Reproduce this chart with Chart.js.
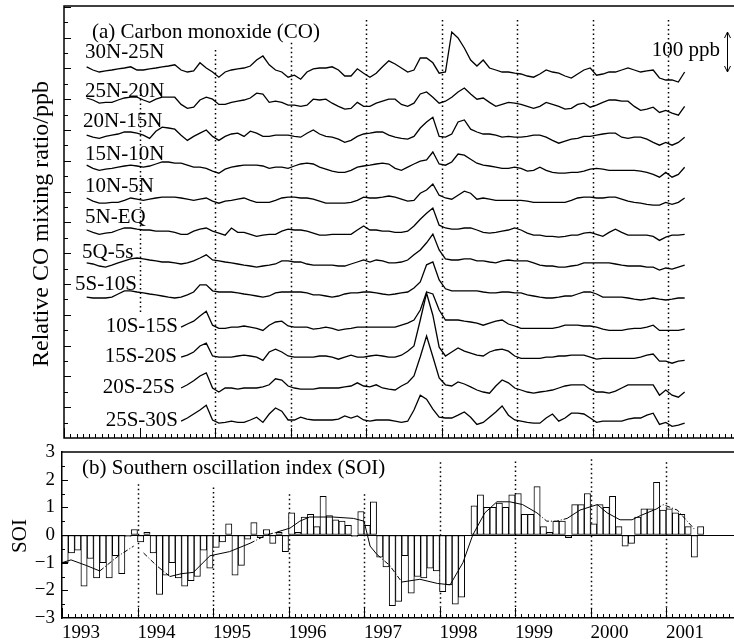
<!DOCTYPE html>
<html><head><meta http-equiv="Content-Type" content="text/html; charset=UTF-8">
<title>CO and SOI 1993-2001</title>
<script src="https://cdn.jsdelivr.net/npm/chart.js@4/dist/chart.umd.min.js"></script>
<style>
  body { margin: 0; background: #fff; }
  #wrap { position: relative; width: 734px; height: 644px; }
  canvas { position: absolute; left: 0; }
  #co-chart { top: 0; }
  #soi-chart { top: 444px; }
</style>
</head>
<body>
<div id="wrap">
  <canvas id="co-chart" width="734" height="444"></canvas>
  <canvas id="soi-chart" width="734" height="200"></canvas>
</div>
<script>
// ---- panel (a): relative CO (ppb), monthly means from spring 1993 ----
var coStart = 1993.3;
var coBands = ['30N-25N', '25N-20N', '20N-15N', '15N-10N', '10N-5N', '5N-EQ',
               '5Q-5s', '5S-10S', '10S-15S', '15S-20S', '20S-25S', '25S-30S'];
// vertical display offset of each band (ppb)
var coOffset = [915, 842, 757, 677, 597, 517, 435, 355, 277, 202, 125, 42];

var co30N25N = [13,5,0,3,5,8,10,13,5,5, 8,10,13,15,18,5,0,3,23,10, 0,-13,0,5,8,10,15,30,40,18,
  5,0,-13,-8,-18,0,8,10,10,13, 5,-10,-10,8,-3,-13,-3,13,28,20, 10,0,5,35,35,23,-3,0,100,85,
  60,30,15,30,10,5,0,0,-3,-5, -10,-13,-5,5,0,-3,-10,-15,-5,5, 10,-8,-5,0,0,5,10,5,0,3, 5,-15,-20,-20,-25,0];
var co25N20N = [8,3,-5,-3,-3,3,8,10,10,3, -3,5,10,10,10,-8,-18,-15,3,10, 5,-8,-8,-3,0,3,8,20,18,-3,
  0,-3,-10,-10,-13,-10,5,3,5,-5, -13,-20,-18,-3,-13,-13,-5,0,5,5, -8,-13,-5,18,23,10,-5,0,10,23,
  33,18,5,8,-3,-13,-8,-3,-5,-8, -13,-18,-13,-3,-8,-13,-20,-18,-8,-5, -15,-10,-3,3,3,0,0,-13,-23,-20, -15,-28,-23,-30,-35,-13];
var co20N15N = [0,-5,-8,-3,0,3,8,8,5,0, -8,10,20,18,15,0,-13,-3,5,13, -3,-13,-3,3,5,-3,10,5,-3,-3,
  0,0,0,-3,-5,5,13,3,-3,-5, -10,-18,-13,-3,3,5,8,8,0,-5, -8,-10,-3,18,33,45,-3,-5,3,33,
  38,15,8,3,3,0,-5,-3,-5,-5, -3,0,0,-5,-13,-20,-15,-10,-8,-3, -3,0,3,5,5,-5,-8,-5,-5,-10, -18,-25,-18,-25,-18,-5];
var co15N10N = [5,-3,-8,-5,-3,0,3,5,3,0, 3,8,13,13,10,10,5,0,0,-3, -10,-15,-5,0,3,5,5,5,3,-3,
  0,0,-3,3,8,10,8,0,-5,-10, -13,-13,-8,0,3,5,8,10,8,-3, -8,0,8,15,18,38,8,5,13,33,
  30,20,10,5,3,0,-3,-3,0,-3, -10,-8,0,-8,-13,-15,-15,-13,-13,-10, -5,-3,-5,-8,-8,-8,-8,-8,-10,-13, -18,-25,-13,-25,-18,0];
var co10N5N = [3,-5,-10,-10,-8,-8,-3,3,0,-3, 0,3,5,5,5,3,0,-3,0,3, -5,-10,-5,-3,0,3,-3,-8,-8,-8,
  -3,3,5,5,3,3,0,-5,-10,-10, -10,-10,-8,-3,5,3,3,5,8,5, 0,-5,-3,15,23,38,10,3,0,10,
  20,15,0,3,0,-3,-3,-3,-3,-3, -5,-8,-8,-8,-8,-8,-8,-3,3,5, 5,3,3,5,5,0,-5,-8,-10,-13, -15,-15,-8,-13,-8,3];
var co5NEQ = [3,-3,-8,-5,-3,3,8,8,5,3, 3,0,0,0,-3,-8,-8,0,5,8, 0,-5,-10,8,-3,-3,-8,-13,-10,-8,
  -8,0,5,3,3,0,-5,-10,-10,-8, -8,-8,-8,3,13,3,3,0,0,-3, -3,0,13,30,45,58,15,8,5,5,
  8,8,3,-3,-5,-3,0,3,8,3, -5,-10,-10,-13,-13,-15,-13,-10,-10,-5, -3,-8,-13,-3,5,-3,-10,-10,-10,-10, -13,-23,-15,-10,-10,-8];
var co5Q5S = [3,0,-5,-8,-3,3,8,13,15,13, 10,8,5,5,3,0,3,8,15,23, 10,8,5,3,0,-3,-5,-8,-5,-3,
  0,8,8,5,5,0,-3,-3,-3,-3, -5,-5,0,5,10,5,10,8,3,3, 5,10,23,35,53,75,35,13,10,10,
  13,13,8,8,5,3,8,10,8,8, 8,3,-3,-5,-5,-8,-8,-5,-3,3, 3,3,3,3,0,-3,-5,-5,-5,-8, -8,-15,-10,-13,-8,-3];
var co5S10S = [-3,-5,-5,-5,-3,5,13,13,10,8, 5,3,0,-3,-5,-3,3,10,28,28, 13,10,10,10,8,5,3,0,-3,0,
  8,10,10,10,10,8,3,3,0,-3, 0,5,8,8,10,10,8,5,3,5, 8,10,20,35,78,85,40,18,13,13,
  13,13,13,10,8,8,10,10,8,8, 3,0,-3,-5,-5,-3,0,0,5,10, 10,5,-3,-3,-3,-3,-5,-8,-10,-8, -5,-8,-10,-8,-5,-5];
var co10S15S = [null,null,null,null,null,null,null,null,null,null,null,null,null,null,null,
  0,8,15,28,40, 5,-3,-3,0,0,3,0,-3,-8,5, 13,15,3,0,0,0,-5,-3,0,-3,
  -8,-5,-3,0,0,0,0,0,0,0, 5,10,18,43,88,83,43,18,18,18, 15,13,10,5,10,15,18,8,3,-3,
  -3,-3,-3,-3,-3,0,5,5,5,3, 3,0,-5,-8,-8,-8,-5,-3,-3,0, 5,-8,-8,-8,-8,-5];
var co15S20S = [null,null,null,null,null,null,null,null,null,null,null,null,null,null,null,
  0,5,13,28,35, 3,0,0,0,3,5,3,0,-8,13, 20,13,3,0,0,0,0,3,3,0,
  -5,0,5,0,0,3,5,3,0,0, 5,15,28,93,160,105,25,3,13,23, 15,10,5,3,13,18,20,15,3,-3,
  -3,-3,-3,0,0,3,3,5,5,5, 0,-5,-3,-3,-3,-3,-3,-3,0,5, 8,-10,-10,-15,-10,-8];
var co20S25S = [null,null,null,null,null,null,null,null,null,null,null,null,null,null,null,
  0,8,18,30,38, 0,-10,0,0,-3,0,0,0,3,8, 23,20,5,0,-3,-3,-3,0,0,0,
  0,3,5,13,5,3,8,0,-3,-5, 5,13,30,78,130,78,25,8,5,15, 10,3,-5,-10,-13,5,20,13,0,-5,
  -10,-13,-10,-8,-5,0,5,8,8,8, -3,-10,-10,-13,-8,0,8,8,8,8, 8,-18,-5,-18,-23,-10];
var co25S30S = [null,null,null,null,null,null,null,null,null,null,null,null,null,null,null,
  0,8,18,28,40, 3,-5,-3,0,-3,-3,3,10,-3,18, 33,25,3,3,10,5,3,3,3,3,
  5,13,8,13,3,0,3,3,3,0, -3,0,28,65,55,30,10,8,8,15, 23,10,-8,-3,10,23,38,15,3,0,
  -3,-5,-5,8,18,0,8,20,20,18, 8,-3,0,0,0,0,5,8,8,15, 20,-8,-3,-13,-10,-5];
var coSeries = [co30N25N, co25N20N, co20N15N, co15N10N, co10N5N, co5NEQ,
                co5Q5S, co5S10S, co10S15S, co15S20S, co20S25S, co25S30S];

// ---- panel (b): monthly SOI from Jan 1993 ----
var soiStart = 1993;
var soi = [
  -1.0,-0.65,-0.55,-1.85,-0.85,-1.55,-1.0,-1.55,-0.75,-1.4,-0.05,0.2,
  -0.25,0.1,-0.65,-2.15,-1.45,-1.0,-1.55,-1.85,-1.65,-1.5,-0.55,-1.2,
  -0.45,-0.25,0.4,-1.45,-1.1,-0.15,0.45,-0.1,0.2,-0.3,0.1,-0.6,
  0.8,0.1,0.65,0.75,0.3,1.4,0.7,0.55,0.5,0.35,-0.05,0.85,
  0.35,1.2,-0.8,-1.15,-2.55,-2.4,-0.75,-2.1,-1.5,-1.55,-1.2,-1.3,
  -2.05,-1.8,-2.5,-2.25,0.0,1.05,1.45,1.0,1.0,1.15,1.0,1.45,
  1.5,0.75,0.75,1.75,0.3,0.1,0.5,0.5,-0.1,1.1,1.1,1.5,
  0.4,1.1,1.0,1.4,0.3,-0.4,-0.3,0.65,0.95,0.95,1.9,0.9,
  0.95,0.8,0.75,0.3,-0.8,0.3];
// smoothed SOI curve
var soiSmoothX = [1993.0,1993.12,1993.32,1993.5,1993.75,1993.95,1994.0,1994.08,1994.25,1994.43,1994.58,1994.74,1994.96,
  1995.22,1995.49,1995.71,1995.84,1996.02,1996.15,1996.28,1996.59,1996.86,1997.0,1997.08,1997.17,1997.34,1997.5,
  1997.74,1997.97,1998.14,1998.31,1998.44,1998.6,1998.76,1998.93,1999.1,1999.29,1999.42,1999.55,1999.69,1999.86,
  2000.09,2000.22,2000.39,2000.55,2000.66,2000.88,2000.96,2001.15,2001.28,2001.38];
var soiSmoothY = [-1.0,-0.9,-1.1,-1.3,-0.75,-0.4,null,-0.65,-1.1,-1.5,-1.4,-1.35,-0.75,
  -0.6,-0.3,0.0,0.1,0.25,0.5,0.65,0.65,0.6,0.5,-0.4,-0.7,-1.1,-1.7,
  -1.6,-1.75,-1.8,-1.0,0.0,0.8,1.2,1.2,1.1,0.8,0.5,0.5,0.6,0.9,
  1.1,0.8,0.55,0.55,0.7,0.95,1.1,0.9,0.5,0.2];
// stretches of the smoothed curve drawn dash-dotted
var soiDashFrom = [1993.5, 1994.08, 1995.49, 1997.17, 1999.29, 2000.88];
var soiDashTo   = [1993.95, 1994.43, 1995.84, 1997.5, 1999.69, 2001.38];

var yearTicks = [1993, 1994, 1995, 1996, 1997, 1998, 1999, 2000, 2001];
var dotYears = [1994, 1995, 1996, 1997, 1998, 1999, 2000, 2001];
var coDotTop = [870, 970, 988, 1045, 1045, 1045, 1045, 1045];
var coDotBottom = [315, 0, 0, 0, 0, 0, 0, 0];
var soiDotTop = [1.83, 1.72, 1.47, 1.47, 2.63, 2.66, 2.74, 2.63];

Chart.defaults.font.family = '"Liberation Serif", "Times New Roman", serif';
Chart.defaults.color = '#000';

var SERIF = '"Liberation Serif", "Times New Roman", serif';
var coTickStep = 38.5;

function drawDotted(ctx, px, y0, y1) {
  ctx.beginPath();
  ctx.moveTo(px, y0);
  ctx.lineTo(px, y1);
  ctx.stroke();
}

function monthTicks(ctx, x, a, len) {
  ctx.lineWidth = 1;
  for (var m = 0; 1993 + m / 12 <= x.max; m++) {
    var px = Math.round(x.getPixelForValue(1993 + m / 12)) + 0.5;
    ctx.beginPath();
    ctx.moveTo(px, a.bottom);
    ctx.lineTo(px, a.bottom - (m % 12 ? len : 10));
    ctx.stroke();
  }
}

function inDash(t) {
  for (var i = 0; i < soiDashFrom.length; i++) {
    if (t >= soiDashFrom[i] - 1e-6 && t < soiDashTo[i] - 1e-6) return true;
  }
  return false;
}

var coDecor = {
  id: 'coDecor',
  beforeDatasetsDraw: function(chart) {
    var ctx = chart.ctx, x = chart.scales.x, y = chart.scales.y;
    ctx.save();
    ctx.strokeStyle = '#000';
    ctx.lineWidth = 1.5;
    ctx.setLineDash([1.5, 3]);
    dotYears.forEach(function(yr, i) {
      var px = Math.round(x.getPixelForValue(yr)) + 0.5;
      drawDotted(ctx, px, y.getPixelForValue(coDotTop[i]), y.getPixelForValue(coDotBottom[i]));
    });
    ctx.restore();
  },
  afterDraw: function(chart) {
    var ctx = chart.ctx, a = chart.chartArea, x = chart.scales.x, y = chart.scales.y;
    ctx.save();
    ctx.strokeStyle = '#000';
    ctx.lineWidth = 1.5;
    ctx.beginPath();
    ctx.moveTo(a.right, a.top);
    ctx.lineTo(a.left, a.top);
    ctx.lineTo(a.left, a.bottom);
    ctx.lineTo(a.right, a.bottom);
    ctx.stroke();

    // left ticks
    ctx.lineWidth = 1;
    for (var k = 1; k * coTickStep < y.max; k++) {
      var py = Math.round(y.getPixelForValue(k * coTickStep)) + 0.5;
      ctx.beginPath();
      ctx.moveTo(a.left, py);
      ctx.lineTo(a.left + (k % 2 ? 4 : 7), py);
      ctx.stroke();
    }
    monthTicks(ctx, x, a, 4);

    // 100 ppb scale bar
    var bx = Math.round(x.getPixelForValue(2001.78)) + 0.5;
    var b0 = y.getPixelForValue(915), b1 = y.getPixelForValue(1015);
    ctx.beginPath();
    ctx.moveTo(bx, b0); ctx.lineTo(bx, b1);
    ctx.moveTo(bx - 3, b1 + 6); ctx.lineTo(bx, b1); ctx.lineTo(bx + 3, b1 + 6);
    ctx.moveTo(bx - 3, b0 - 6); ctx.lineTo(bx, b0); ctx.lineTo(bx + 3, b0 - 6);
    ctx.stroke();

    ctx.fillStyle = '#000';
    ctx.font = '21px ' + SERIF;
    ctx.textBaseline = 'alphabetic';
    ctx.textAlign = 'right';
    ctx.fillText('100 ppb', 720, 56);
    ctx.textAlign = 'left';
    ctx.fillText('(a) Carbon monoxide (CO)', 92, 38);

    var lab = [[85, 58], [85, 97], [83, 127], [85, 160], [85, 192], [85, 223],
               [82, 258], [75, 290], [178, 332], [177, 362], [175, 393], [178, 426]];
    coBands.forEach(function(name, i) {
      ctx.textAlign = i < 8 ? 'left' : 'right';
      ctx.fillText(name, lab[i][0], lab[i][1]);
    });

    // y title
    ctx.save();
    ctx.translate(48, 224);
    ctx.rotate(-Math.PI / 2);
    ctx.textAlign = 'center';
    ctx.font = '24px ' + SERIF;
    ctx.fillText('Relative CO mixing ratio/ppb', 0, 0);
    ctx.restore();
    ctx.restore();
  }
};

new Chart(document.getElementById('co-chart'), {
  type: 'line',
  data: {
    datasets: coSeries.map(function(vals, i) {
      return {
        label: coBands[i],
        data: vals.map(function(v, k) {
          return { x: coStart + k / 12, y: v === null ? null : coOffset[i] + v };
        }),
        borderColor: '#000',
        borderWidth: 1.3,
        pointRadius: 0,
        tension: 0,
        fill: false
      };
    })
  },
  options: {
    responsive: false,
    animation: false,
    events: [],
    layout: { padding: { left: 64, top: 6, right: 0, bottom: 6 } },
    scales: {
      x: { type: 'linear', min: 1993, max: 2001.87, display: false },
      y: { min: 0, max: 1080, display: false }
    },
    plugins: { legend: { display: false }, tooltip: { enabled: false } }
  },
  plugins: [coDecor]
});

var soiDecor = {
  id: 'soiDecor',
  beforeDatasetsDraw: function(chart) {
    var ctx = chart.ctx, x = chart.scales.x, y = chart.scales.y;
    ctx.save();
    ctx.strokeStyle = '#000';
    ctx.lineWidth = 1.5;
    ctx.setLineDash([1.5, 3]);
    dotYears.forEach(function(yr, i) {
      var px = Math.round(x.getPixelForValue(yr)) + 0.5;
      drawDotted(ctx, px, y.getPixelForValue(soiDotTop[i]), y.getPixelForValue(-3));
    });
    ctx.restore();
  },
  afterDraw: function(chart) {
    var ctx = chart.ctx, a = chart.chartArea, x = chart.scales.x, y = chart.scales.y;
    ctx.save();
    ctx.strokeStyle = '#000';
    ctx.lineWidth = 1.5;
    ctx.beginPath();
    ctx.moveTo(a.left, a.top);
    ctx.lineTo(a.right, a.top);
    ctx.stroke();
    ctx.lineWidth = 1;
    for (var v = -5; v <= 5; v++) {
      var py = Math.round(y.getPixelForValue(v / 2)) + 0.5;
      ctx.beginPath();
      ctx.moveTo(a.left, py);
      ctx.lineTo(a.left + (v % 2 ? 3 : 6), py);
      ctx.stroke();
    }
    monthTicks(ctx, x, a, 4);

    ctx.fillStyle = '#000';
    ctx.font = '21px ' + SERIF;
    ctx.textAlign = 'left';
    ctx.fillText('(b) Southern oscillation index (SOI)', 82, 30);
    ctx.save();
    ctx.translate(26, 92);
    ctx.rotate(-Math.PI / 2);
    ctx.textAlign = 'center';
    ctx.fillText('SOI', 0, 0);
    ctx.restore();
    ctx.restore();
  }
};

new Chart(document.getElementById('soi-chart'), {
  type: 'bar',
  data: {
    datasets: [{
      type: 'line',
      label: 'smoothed',
      data: soiSmoothX.map(function(t, i) { return { x: t, y: soiSmoothY[i] }; }),
      borderColor: '#000',
      borderWidth: 1,
      pointRadius: 0,
      tension: 0,
      segment: {
        borderDash: function(c) { return inDash(c.p0.parsed.x) ? [5, 2, 1, 2] : undefined; }
      },
      order: 0
    }, {
      type: 'bar',
      label: 'SOI',
      data: soi.map(function(v, m) { return { x: soiStart + (m + 0.5) / 12, y: v }; }),
      backgroundColor: '#fff',
      borderColor: '#000',
      borderWidth: 1,
      borderSkipped: false,
      barPercentage: 1,
      categoryPercentage: 1,
      order: 1
    }]
  },
  options: {
    responsive: false,
    animation: false,
    events: [],
    layout: { padding: { left: 0, top: 8, right: 0, bottom: 0 } },
    scales: {
      x: {
        type: 'linear', min: 1993, max: 2001.9, offset: false,
        grid: { drawOnChartArea: false, drawTicks: false, offset: false },
        border: { display: true, color: '#000', width: 1.5 },
        ticks: {
          stepSize: 1, includeBounds: false, autoSkip: false, maxRotation: 0, align: 'start',
          padding: 4, font: { size: 19 },
          callback: function(v) { return yearTicks.indexOf(v) >= 0 ? String(v) : ''; }
        },
        afterFit: function(s) { s.height = 26; s.paddingLeft = 0; s.paddingRight = 0; }
      },
      y: {
        min: -3, max: 3,
        grid: {
          drawTicks: false,
          color: function(c) { return c.tick && c.tick.value === 0 ? '#000' : 'rgba(0,0,0,0)'; }
        },
        border: { display: true, color: '#000', width: 1.5 },
        ticks: {
          stepSize: 1, padding: 7, font: { size: 19 },
          callback: function(v) { return v < 0 ? '\u2212' + Math.abs(v) : String(v); }
        },
        afterFit: function(s) { s.width = 62; s.paddingTop = 0; s.paddingBottom = 0; }
      }
    },
    plugins: { legend: { display: false }, tooltip: { enabled: false } }
  },
  plugins: [soiDecor]
});
</script>
</body></html>
